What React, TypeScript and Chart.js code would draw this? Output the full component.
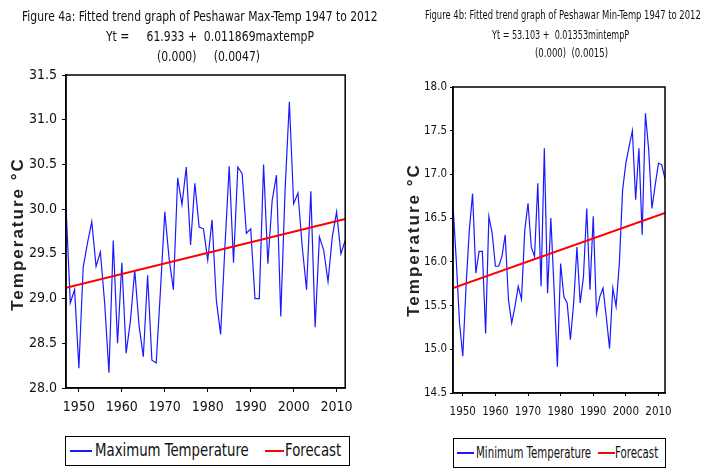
import React, { useEffect, useRef } from "react";
import { Chart, registerables } from "chart.js";

Chart.register(...registerables);

const years = [
  1947, 1948, 1949, 1950, 1951, 1952, 1953, 1954, 1955, 1956, 1957, 1958, 1959,
  1960, 1961, 1962, 1963, 1964, 1965, 1966, 1967, 1968, 1969, 1970, 1971, 1972,
  1973, 1974, 1975, 1976, 1977, 1978, 1979, 1980, 1981, 1982, 1983, 1984, 1985,
  1986, 1987, 1988, 1989, 1990, 1991, 1992, 1993, 1994, 1995, 1996, 1997, 1998,
  1999, 2000, 2001, 2002, 2003, 2004, 2005, 2006, 2007, 2008, 2009, 2010, 2011,
  2012,
];

const maxTemp = [
  30.03, 28.95, 29.1, 28.22, 29.35, 29.62, 29.86, 29.36, 29.52, 28.95, 28.17,
  29.65, 28.5, 29.4, 28.39, 28.75, 29.32, 28.7, 28.35, 29.26, 28.31, 28.28,
  29.1, 29.97, 29.45, 29.1, 30.35, 30.05, 30.47, 29.6, 30.29, 29.8, 29.78,
  29.43, 29.88, 28.98, 28.6, 29.58, 30.48, 29.4, 30.47, 30.4, 29.73, 29.78,
  29.0, 29.0, 30.5, 29.39, 30.1, 30.38, 28.8, 30.21, 31.2, 30.06, 30.18, 29.58,
  29.1, 30.2, 28.68, 29.69, 29.54, 29.19, 29.69, 29.97, 29.5, 29.65,
];

const minTemp = [
  16.65, 16.02, 15.3, 14.92, 15.72, 16.36, 16.78, 15.87, 16.12, 16.12, 15.18,
  16.52, 16.33, 15.95, 15.95, 16.06, 16.31, 15.57, 15.3, 15.49, 15.72, 15.57,
  16.36, 16.67, 16.17, 16.06, 16.9, 15.72, 17.3, 15.64, 16.5, 15.68, 14.8,
  15.98, 15.6, 15.53, 15.11, 15.53, 16.17, 15.53, 15.83, 16.61, 15.68, 16.52,
  15.41, 15.6, 15.7, 15.37, 15.01, 15.7, 15.49, 15.98, 16.82, 17.13, 17.32,
  17.5, 16.71, 17.3, 16.31, 17.7, 17.28, 16.61, 16.88, 17.13, 17.11, 16.95,
];

const trendYears = [1947, 2012];
const maxForecast = [29.12, 29.89];
const minForecast = [15.7, 16.56];

const xTicks = [1950, 1960, 1970, 1980, 1990, 2000, 2010];
const maxYTicks = [28.0, 28.5, 29.0, 29.5, 30.0, 30.5, 31.0, 31.5];
const minYTicks = [14.5, 15.0, 15.5, 16.0, 16.5, 17.0, 17.5, 18.0];

const FONT =
  '"Liberation Sans Narrow", "DejaVu Sans Condensed", "Liberation Sans", Arial, sans-serif';

const framePlugin = {
  id: "frame",
  afterDraw(chart: any) {
    const { ctx, chartArea: a } = chart;
    ctx.save();
    ctx.strokeStyle = "#000";
    ctx.lineWidth = 1.5;
    ctx.strokeRect(a.left, a.top, a.right - a.left, a.bottom - a.top);
    ctx.restore();
  },
};

type Props = {
  left: number;
  width: number;
  height: number;
  padTop: number;
  padRight: number;
  yWidth: number;
  xHeight: number;
  yMin: number;
  yMax: number;
  yTicks: number[];
  values: number[];
  forecast: number[];
  label: string;
  fontSize: number;
  xPad: number;
  yPad: number;
  tickLen: number;
};

function TrendChart(p: Props) {
  const ref = useRef<HTMLCanvasElement | null>(null);
  useEffect(() => {
    if (!ref.current) return;
    const chart = new Chart(ref.current, {
      type: "line",
      data: {
        datasets: [
          {
            label: "Forecast",
            data: trendYears.map((x, i) => ({ x, y: p.forecast[i] })),
            borderColor: "#ff0000",
            borderWidth: 2,
            pointRadius: 0,
            tension: 0,
            order: 0,
          },
          {
            label: p.label,
            data: years.map((x, i) => ({ x, y: p.values[i] })),
            borderColor: "#1a1aff",
            borderWidth: 1.2,
            pointRadius: 0,
            tension: 0,
            order: 1,
          },
        ],
      },
      options: {
        animation: false,
        responsive: false,
        maintainAspectRatio: false,
        layout: {
          padding: { top: p.padTop, right: p.padRight, left: 0, bottom: 0 },
        },
        plugins: {
          legend: { display: false },
          tooltip: { enabled: false },
          title: { display: false },
        },
        scales: {
          x: {
            type: "linear",
            min: 1947,
            max: 2012,
            afterBuildTicks: (ax: any) => {
              ax.ticks = xTicks.map((v) => ({ value: v }));
            },
            afterFit: (s: any) => {
              s.height = p.xHeight;
            },
            grid: {
              drawOnChartArea: false,
              drawTicks: true,
              tickLength: p.tickLen,
              color: "#000",
              lineWidth: 1,
            },
            border: { display: true, color: "#000", width: 1.5 },
            ticks: {
              callback: (v: any) => String(v),
              font: { family: FONT, size: p.fontSize },
              color: "#111",
              padding: p.xPad,
              maxRotation: 0,
              autoSkip: false,
            },
          },
          y: {
            type: "linear",
            min: p.yMin,
            max: p.yMax,
            afterBuildTicks: (ax: any) => {
              ax.ticks = p.yTicks.map((v) => ({ value: v }));
            },
            afterFit: (s: any) => {
              s.width = p.yWidth;
            },
            grid: {
              drawOnChartArea: false,
              drawTicks: true,
              tickLength: p.tickLen,
              color: "#000",
              lineWidth: 1,
            },
            border: { display: true, color: "#000", width: 1.5 },
            ticks: {
              callback: (v: any) => Number(v).toFixed(1),
              font: { family: FONT, size: p.fontSize },
              color: "#111",
              padding: p.yPad,
              autoSkip: false,
            },
          },
        },
      },
      plugins: [framePlugin],
    } as any);
    return () => chart.destroy();
  }, []);
  return (
    <canvas
      ref={ref}
      width={p.width}
      height={p.height}
      style={{
        position: "absolute",
        left: p.left,
        top: 0,
        width: p.width,
        height: p.height,
        display: "block",
      }}
    />
  );
}

const txt = (
  left: number,
  top: number,
  size: number,
  text: string,
  scaleX = 1
) => (
  <div
    style={{
      position: "absolute",
      left,
      top,
      fontFamily: FONT,
      fontSize: size,
      lineHeight: size + 2 + "px",
      whiteSpace: "pre",
      color: "#111",
      transform: `scaleX(${scaleX})`,
      transformOrigin: "left center",
    }}
  >
    {text}
  </div>
);

const yTitle = (cx: number, cy: number) => (
  <div
    style={{
      position: "absolute",
      left: cx - 90,
      top: cy - 11,
      width: 180,
      height: 22,
      lineHeight: "22px",
      textAlign: "center",
      fontFamily: '"Liberation Sans", Arial, sans-serif',
      fontWeight: "bold",
      fontSize: 17,
      letterSpacing: 2,
      color: "#222",
      transform: "rotate(-90deg)",
      whiteSpace: "pre",
    }}
  >
    Temperature °C
  </div>
);

const legendBox = (
  left: number,
  top: number,
  width: number,
  height: number,
  items: { color: string; x: number; w: number; text: string; tx: number }[],
  size: number,
  scaleX: number
) => (
  <div
    style={{
      position: "absolute",
      left,
      top,
      width,
      height,
      border: "1.5px solid #000",
      boxSizing: "border-box",
    }}
  >
    {items.map((it, i) => (
      <React.Fragment key={i}>
        <div
          style={{
            position: "absolute",
            left: it.x,
            top: height / 2 - 2,
            width: it.w,
            height: 1.5,
            background: it.color,
          }}
        />
        <div
          style={{
            position: "absolute",
            left: it.tx,
            top: 0,
            height: height - 3,
            lineHeight: height - 3 + "px",
            fontFamily: FONT,
            fontSize: size,
            whiteSpace: "pre",
            color: "#111",
            transform: `scaleX(${scaleX})`,
            transformOrigin: "left center",
          }}
        >
          {it.text}
        </div>
      </React.Fragment>
    ))}
  </div>
);

export default function App() {
  return (
    <div
      style={{
        position: "absolute",
        left: 0,
        top: 0,
        width: 706,
        height: 468,
        background: "#fff",
        overflow: "hidden",
      }}
    >
      <TrendChart
        left={0}
        width={360}
        height={430}
        padTop={75}
        padRight={12}
        yWidth={66}
        xHeight={42}
        yMin={28}
        yMax={31.5}
        yTicks={maxYTicks}
        values={maxTemp}
        forecast={maxForecast}
        label="Maximum Temperature"
        fontSize={14}
        xPad={7}
        yPad={5}
        tickLen={4}
      />
      <TrendChart
        left={370}
        width={336}
        height={430}
        padTop={87}
        padRight={41}
        yWidth={83}
        xHeight={37}
        yMin={14.5}
        yMax={18}
        yTicks={minYTicks}
        values={minTemp}
        forecast={minForecast}
        label="Minimum Temperature"
        fontSize={11.5}
        xPad={9}
        yPad={3}
        tickLen={3}
      />
      {txt(22, 8, 14, "Figure 4a: Fitted trend graph of Peshawar Max-Temp 1947 to 2012", 0.855)}
      {txt(106, 28, 14, "Yt =     61.933 +  0.011869maxtempP", 0.86)}
      {txt(157, 48, 14, "(0.000)     (0.0047)", 0.86)}
      {txt(425, 7, 13, "Figure 4b: Fitted trend graph of Peshawar Min-Temp 1947 to 2012", 0.72)}
      {txt(492, 27, 13, "Yt = 53.103 +  0.01353mintempP", 0.69)}
      {txt(535, 45, 13, "(0.000)  (0.0015)", 0.73)}
      {yTitle(18, 234)}
      {yTitle(414, 240)}
      {legendBox(
        65,
        436,
        285,
        30,
        [
          { color: "#1a1aff", x: 4, w: 22, text: "Maximum Temperature", tx: 29 },
          { color: "#ff0000", x: 199, w: 19, text: "Forecast", tx: 219 },
        ],
        17,
        0.87
      )}
      {legendBox(
        453,
        438,
        213,
        30,
        [
          { color: "#1a1aff", x: 3, w: 17, text: "Minimum Temperature", tx: 22 },
          { color: "#ff0000", x: 144, w: 17, text: "Forecast", tx: 161 },
        ],
        16,
        0.71
      )}
    </div>
  );
}
